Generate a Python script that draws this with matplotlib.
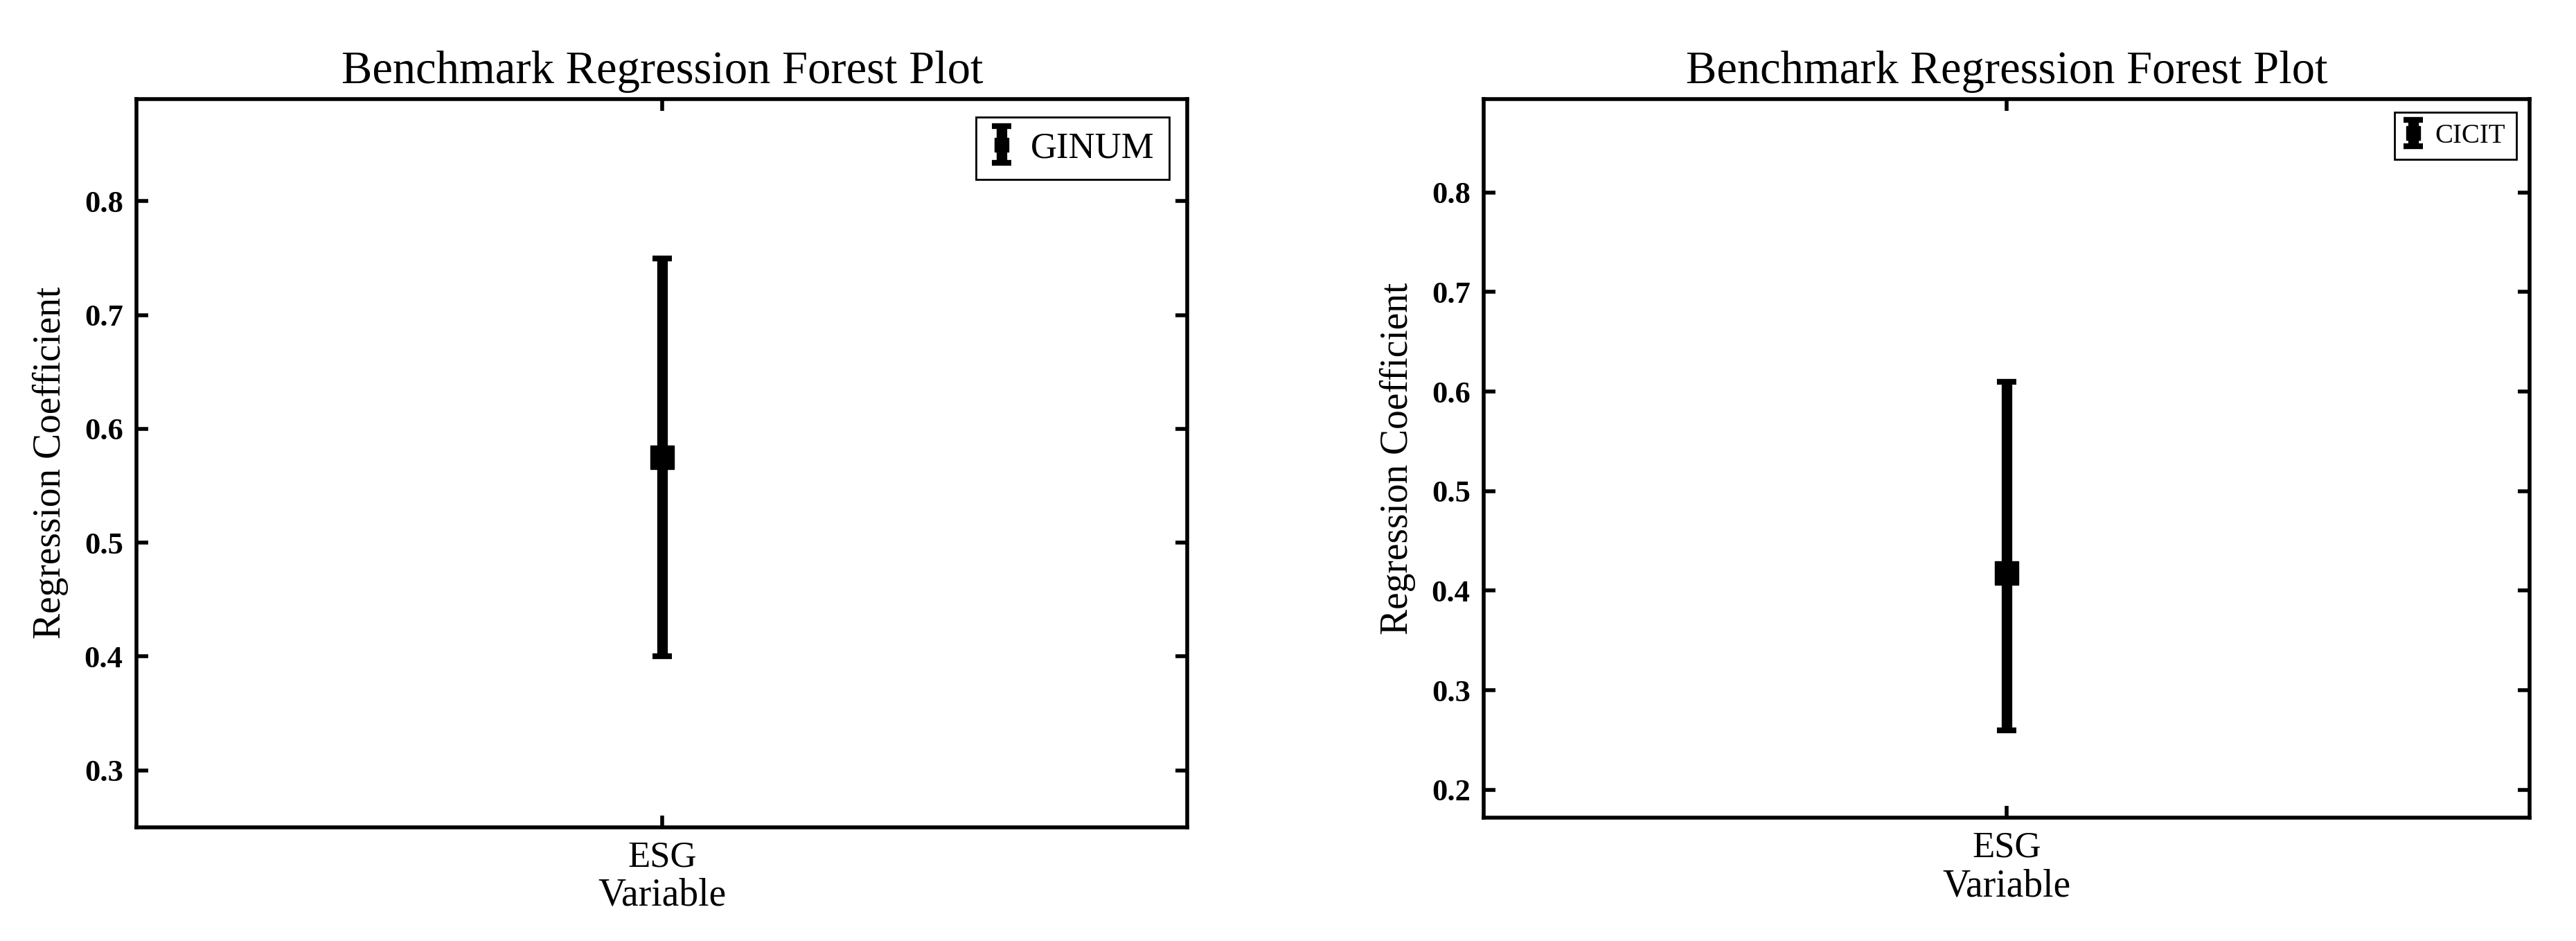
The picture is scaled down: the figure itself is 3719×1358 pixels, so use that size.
import matplotlib
matplotlib.use("Agg")
import matplotlib.pyplot as plt

plt.rcParams['font.family'] = ['Liberation Serif', 'DejaVu Serif']

variables = ['ESG']
panels = ['GINUM', 'CICIT']
coef = [0.575, 0.418]
ci_low = [0.40, 0.26]
ci_high = [0.75, 0.61]
ylims = [(0.25, 0.89), (0.172, 0.894)]
yticks = [[0.3, 0.4, 0.5, 0.6, 0.7, 0.8], [0.2, 0.3, 0.4, 0.5, 0.6, 0.7, 0.8]]
legend_size = [38, 28]

fig = plt.figure(figsize=(37.19, 13.58), dpi=100)
boxes = [[0.053, 0.121, 0.408, 0.774], [0.576, 0.131, 0.406, 0.764]]

for i in range(2):
    ax = fig.add_axes(boxes[i])
    err = [[coef[i] - ci_low[i]], [ci_high[i] - coef[i]]]
    ax.errorbar(variables, [coef[i]], yerr=err, fmt='s', color='black',
                markersize=24, elinewidth=11, capsize=10, capthick=6, label=panels[i])
    ax.set_xlim(-1, 1)
    ax.set_ylim(*ylims[i])
    ax.set_yticks(yticks[i])
    ax.set_yticklabels([f'{t:.1f}' for t in yticks[i]], fontweight='bold')
    ax.tick_params(direction='in', length=12, width=4, labelsize=32,
                   top=True, right=True, pad=14)
    ax.tick_params(axis='x', labelsize=38)
    for s in ax.spines.values():
        s.set_linewidth(4)
    ax.set_title('Benchmark Regression Forest Plot', fontsize=48, pad=16)
    ax.set_xlabel('Variable', fontsize=40, labelpad=4)
    ax.set_ylabel('Regression Coefficient', fontsize=40, labelpad=16)
    leg = ax.legend(loc='upper right', fontsize=legend_size[i], fancybox=False,
                    edgecolor='black', framealpha=1, handlelength=0.6,
                    markerscale=0.6, borderaxespad=0.5, handletextpad=0.5)
    leg.get_frame().set_linewidth(2)

fig.savefig('out.png', dpi=100)
